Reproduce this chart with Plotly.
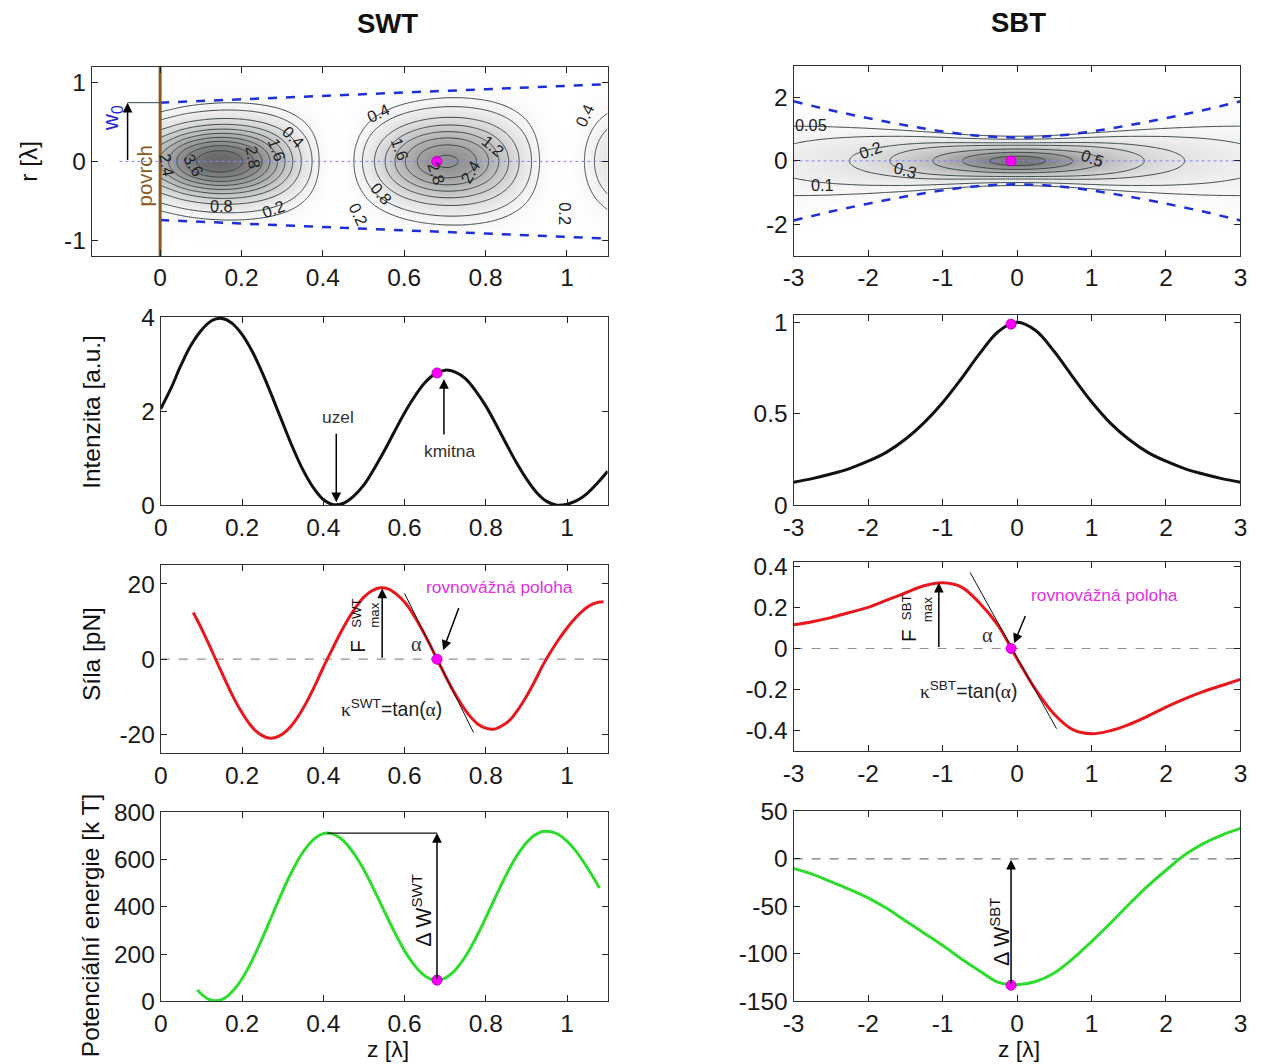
import numpy as np
import plotly.graph_objects as go

W, H = 1261, 1064
SANS = "Liberation Sans, Arial, Helvetica, sans-serif"
SERIF = "Liberation Serif, Times New Roman, serif"

# ---------------- data ----------------
# SWT: on-axis intensity
z_int_swt = [0.0, 0.025, 0.05, 0.075, 0.1, 0.125, 0.15, 0.175, 0.2, 0.225, 0.25, 0.275,
             0.3, 0.325, 0.35, 0.375, 0.4, 0.425, 0.45, 0.475, 0.5, 0.525, 0.55, 0.575,
             0.6, 0.625, 0.65, 0.675, 0.7, 0.725, 0.75, 0.775, 0.8, 0.825, 0.85, 0.875,
             0.9, 0.925, 0.95, 0.975, 1.0, 1.025, 1.05, 1.075, 1.1]
int_swt = [2.05, 2.48, 2.98, 3.41, 3.72, 3.92, 3.97, 3.87, 3.63, 3.27, 2.81, 2.29,
           1.75, 1.22, 0.75, 0.38, 0.12, 0.01, 0.04, 0.19, 0.43, 0.77, 1.15, 1.56,
           1.96, 2.31, 2.60, 2.79, 2.87, 2.83, 2.69, 2.43, 2.11, 1.72, 1.31, 0.91,
           0.56, 0.27, 0.08, 0.00, 0.02, 0.10, 0.25, 0.47, 0.72]
# SWT: force
z_f_swt = [0.08, 0.10, 0.12, 0.14, 0.16, 0.18, 0.20, 0.22, 0.24, 0.26, 0.28, 0.30, 0.32,
           0.34, 0.36, 0.38, 0.40, 0.42, 0.44, 0.46, 0.48, 0.50, 0.52, 0.54, 0.56, 0.58,
           0.60, 0.62, 0.64, 0.66, 0.68, 0.70, 0.72, 0.74, 0.76, 0.78, 0.80, 0.82, 0.84,
           0.86, 0.88, 0.90, 0.92, 0.94, 0.96, 0.98, 1.00, 1.02, 1.04, 1.06, 1.08, 1.09]
f_swt = [12.4, 8.2, 3.6, -1.2, -5.9, -10.4, -14.2, -17.4, -19.6, -20.8, -20.9, -19.9, -17.9,
         -14.9, -11.2, -6.9, -2.2, 2.2, 6.5, 10.4, 13.8, 16.5, 18.2, 19.0, 18.7, 17.3,
         15.2, 12.2, 8.5, 4.4, 0.0, -4.3, -8.4, -12.0, -15.0, -17.2, -18.3, -18.6, -17.7,
         -16.1, -13.3, -9.9, -6.0, -1.7, 2.0, 5.3, 8.3, 10.9, 13.0, 14.5, 15.2, 15.3]
# SWT: potential energy
z_w_swt = [0.09, 0.10, 0.12, 0.14, 0.16, 0.18, 0.20, 0.22, 0.24, 0.26, 0.28, 0.30, 0.32,
           0.34, 0.36, 0.38, 0.40, 0.42, 0.44, 0.46, 0.48, 0.50, 0.52, 0.54, 0.56, 0.58,
           0.60, 0.62, 0.64, 0.66, 0.68, 0.70, 0.72, 0.74, 0.76, 0.78, 0.80, 0.82, 0.84,
           0.86, 0.88, 0.90, 0.92, 0.94, 0.96, 0.98, 1.00, 1.02, 1.04, 1.06, 1.08]
w_swt = [49, 31, 8, 4, 17, 49, 96, 157, 229, 307, 388, 467, 540,
         605, 655, 691, 710, 710, 693, 661, 614, 557, 490, 419, 347, 278,
         215, 163, 123, 98, 90, 99, 124, 165, 219, 283, 354, 427, 500,
         567, 625, 671, 703, 719, 718, 705, 678, 640, 592, 538, 480]
# SWT: beam radius (dashed lines)
z_beam_swt = [0.0, 0.2, 0.4, 0.6, 0.8, 1.0, 1.1]
w_beam_swt = [0.745, 0.79, 0.83, 0.875, 0.915, 0.96, 0.98]
swt_levels_a = (0.4, 3.6, 0.4)   # start, end, step of contour levels
swt_level_b = 0.2

# SBT
z_sbt = [-3.0, -2.75, -2.5, -2.25, -2.0, -1.75, -1.5, -1.25, -1.0, -0.75, -0.5, -0.25, 0.0,
         0.25, 0.5, 0.75, 1.0, 1.25, 1.5, 1.75, 2.0, 2.25, 2.5, 2.75, 3.0]
int_sbt = [0.125, 0.145, 0.17, 0.2, 0.24, 0.29, 0.36, 0.45, 0.56, 0.69, 0.83, 0.95, 1.0,
           0.955, 0.84, 0.70, 0.565, 0.45, 0.36, 0.29, 0.24, 0.2, 0.17, 0.145, 0.125]
f_sbt = [0.115, 0.13, 0.15, 0.175, 0.2, 0.235, 0.27, 0.305, 0.32, 0.30, 0.22, 0.11, -0.05,
         -0.20, -0.32, -0.395, -0.415, -0.40, -0.37, -0.33, -0.285, -0.245, -0.21, -0.18, -0.15]
w_sbt = [-10, -16, -24, -32, -41, -52, -65, -78, -91, -105, -118, -130, -132.5,
         -129, -120, -105, -87, -68, -48, -29, -12, 4, 16, 25, 32]
z_beam_sbt = [-3.0, -2.5, -2.0, -1.5, -1.0, -0.5, 0.0, 0.5, 1.0, 1.5, 2.0, 2.5, 3.0]
w_beam_sbt = [1.88, 1.60, 1.35, 1.125, 0.93, 0.79, 0.74, 0.79, 0.93, 1.125, 1.35, 1.60, 1.88]
sbt_levels = [0.05, 0.1, 0.2, 0.3, 0.5, 0.7, 0.9]

# equilibrium positions and values at them
eq_swt_z, eq_swt_int, eq_swt_w = 0.68, 2.81, 90
eq_sbt_z, eq_sbt_int, eq_sbt_w = -0.08, 0.99, -133
fmax_swt_z, fmax_swt = 0.545, 18.8
fmax_sbt_z, fmax_sbt = -1.05, 0.32
wmax_swt_z, wmax_swt = 0.41, 712
tan_swt_z, tan_swt_f = [0.60, 0.77], [17.5, -19.5]
tan_sbt_z, tan_sbt_f = [-0.63, 0.53], [0.37, -0.39]

# ---------------- helpers ----------------
def cspline(xk, yk, x):
    xk = np.asarray(xk, float); yk = np.asarray(yk, float); x = np.asarray(x, float)
    n = len(xk); h = np.diff(xk)
    A = np.zeros((n, n)); b = np.zeros(n)
    A[0, 0] = 1; A[-1, -1] = 1
    for i in range(1, n - 1):
        A[i, i - 1] = h[i - 1]; A[i, i] = 2 * (h[i - 1] + h[i]); A[i, i + 1] = h[i]
        b[i] = 3 * ((yk[i + 1] - yk[i]) / h[i] - (yk[i] - yk[i - 1]) / h[i - 1])
    c = np.linalg.solve(A, b)
    bc = (yk[1:] - yk[:-1]) / h - h * (2 * c[:-1] + c[1:]) / 3
    d = (c[1:] - c[:-1]) / (3 * h)
    idx = np.clip(np.searchsorted(xk, x) - 1, 0, n - 2)
    dx = x - xk[idx]
    return yk[idx] + bc[idx] * dx + c[idx] * dx ** 2 + d[idx] * dx ** 3

# fields for the contour maps, built from the read profiles
K_SWT, K_SBT = 0.78, 0.86
zg1 = np.linspace(0, 1.1, 221); rg1 = np.linspace(-1.2, 1.2, 241)
I1 = np.clip(cspline(z_int_swt, int_swt, zg1), 0, None)
wz1 = np.interp(zg1, z_beam_swt, w_beam_swt) * K_SWT
F1 = np.round(I1[None, :] * np.exp(-2 * rg1[:, None] ** 2 / wz1[None, :] ** 2), 4)

zg5 = np.linspace(-3, 3, 241); rg5 = np.linspace(-3, 3, 241)
I5 = np.clip(cspline(z_sbt, int_sbt, zg5), 0, None)
wz5 = cspline(z_beam_sbt, w_beam_sbt, zg5) * K_SBT
F5 = np.round(I5[None, :] * np.exp(-2 * rg5[:, None] ** 2 / wz5[None, :] ** 2), 4)

# page-pixel placement (compensates the slight shrink of the captured page)
SX, OX, SY, OY = 0.986, 10.2, 0.974, 14.2
def PX(p): return (p - OX) / SX
def PY(p): return (p - OY) / SY
FS = 1.0 / 0.98

def dx_(a, b): return [PX(a) / W, PX(b) / W]
def dy_(top, bot): return [1 - PY(bot) / H, 1 - PY(top) / H]

def xn(i): return 'x' if i == 1 else f'x{i}'
def yn(i): return 'y' if i == 1 else f'y{i}'

GRAY = [[0, '#ffffff'], [1, '#5a5a5a']]
CL = '#3a4848'
BLUE = '#1e2fd6'
RED = '#e8171d'
GREEN = '#2edc2e'
PINK = '#ff00ff'
BROWN = '#8c5a1e'

fig = go.Figure()

def line(i, x, y, color, width=3, dash=None, shape='spline'):
    fig.add_trace(go.Scatter(x=x, y=y, mode='lines', xaxis=xn(i), yaxis=yn(i),
                             line=dict(color=color, width=width, dash=dash, shape=shape),
                             hoverinfo='skip'))

def dot(i, x, y):
    fig.add_trace(go.Scatter(x=[x], y=[y], mode='markers', xaxis=xn(i), yaxis=yn(i),
                             marker=dict(color=PINK, size=10, line=dict(color='#c000c0', width=1)),
                             hoverinfo='skip'))

def contour(i, xg, yg, f, start, end, step):
    fig.add_trace(go.Contour(x=xg, y=yg, z=f, xaxis=xn(i), yaxis=yn(i), autocontour=False,
                             contours=dict(start=start, end=end, size=step, coloring='none'),
                             line=dict(color=CL, width=1), showscale=False, hoverinfo='skip'))

# ---- panel 1: SWT map ----
fig.add_trace(go.Heatmap(x=zg1, y=rg1, z=F1, colorscale=GRAY, zmin=0, zmax=4.3, zsmooth='best',
                         showscale=False, hoverinfo='skip', xaxis='x', yaxis='y'))
contour(1, zg1, rg1, F1, swt_levels_a[0], swt_levels_a[1] + 0.01, swt_levels_a[2])
contour(1, zg1, rg1, F1, swt_level_b, swt_level_b, 0.1)
line(1, z_beam_swt, w_beam_swt, BLUE, 2.5, 'dash', 'linear')
line(1, z_beam_swt, [-v for v in w_beam_swt], BLUE, 2.5, 'dash', 'linear')
line(1, [-0.1, 1.1], [0, 0], '#8080ff', 1, 'dot', 'linear')
line(1, [0, 0], [-1.2, 1.2], BROWN, 3, None, 'linear')
line(1, [-0.08, 0], [w_beam_swt[0], w_beam_swt[0]], '#2a4a4a', 1, None, 'linear')
dot(1, eq_swt_z, 0)

# ---- panel 2: SWT intensity ----
line(2, z_int_swt, int_swt, '#111111', 3)
dot(2, eq_swt_z, eq_swt_int)

# ---- panel 3: SWT force ----
line(3, [0, 1.1], [0, 0], '#9a8c8c', 1.2, 'dash', 'linear')
line(3, z_f_swt, f_swt, RED, 3)
line(3, tan_swt_z, tan_swt_f, '#111111', 1, None, 'linear')
dot(3, eq_swt_z, 0)

# ---- panel 4: SWT energy ----
line(4, z_w_swt, w_swt, GREEN, 3)
line(4, [wmax_swt_z, eq_swt_z], [wmax_swt, wmax_swt], '#111111', 1.2, None, 'linear')
dot(4, eq_swt_z, eq_swt_w)

# ---- panel 5: SBT map ----
fig.add_trace(go.Heatmap(x=zg5, y=rg5, z=F5, colorscale=GRAY, zmin=0, zmax=1.2, zsmooth='best',
                         showscale=False, hoverinfo='skip', xaxis='x5', yaxis='y5'))
contour(5, zg5, rg5, F5, sbt_levels[0], sbt_levels[0], 0.05)
contour(5, zg5, rg5, F5, sbt_levels[1], sbt_levels[3] + 0.001, 0.1)
contour(5, zg5, rg5, F5, sbt_levels[4], sbt_levels[6] + 0.001, 0.2)
line(5, z_beam_sbt, w_beam_sbt, BLUE, 2.5, 'dash')
line(5, z_beam_sbt, [-v for v in w_beam_sbt], BLUE, 2.5, 'dash')
line(5, [-3, 3], [0, 0], '#8080ff', 1, 'dot', 'linear')
dot(5, eq_sbt_z, 0)

# ---- panel 6: SBT intensity ----
line(6, z_sbt, int_sbt, '#111111', 3)
dot(6, eq_sbt_z, eq_sbt_int)

# ---- panel 7: SBT force ----
line(7, [-3, 3], [0, 0], '#9a8c8c', 1.2, 'dash', 'linear')
line(7, z_sbt, f_sbt, RED, 3)
line(7, tan_sbt_z, tan_sbt_f, '#111111', 1, None, 'linear')
dot(7, eq_sbt_z, 0)

# ---- panel 8: SBT energy ----
line(8, [-3, 3], [0, 0], '#6f7a7a', 1.2, 'dash', 'linear')
line(8, z_sbt, w_sbt, GREEN, 3)
dot(8, eq_sbt_z, eq_sbt_w)

# ---------------- axes ----------------
TF = dict(family=SANS, size=24.5, color='#1a1a1a')
X1 = ([0, 0.2, 0.4, 0.6, 0.8, 1], ['0', '0.2', '0.4', '0.6', '0.8', '1'])
X2 = ([-3, -2, -1, 0, 1, 2, 3], ['-3', '-2', '-1', '0', '1', '2', '3'])
panels = [
    ([91, 607], [68, 257], [-0.168, 1.1], [-1.2, 1.2], X1, ([-1, 0, 1], ['-1', '0', '1'])),
    ([160, 607], [318, 506], [0, 1.1], [0, 4], X1, ([0, 2, 4], ['0', '2', '4'])),
    ([160, 607], [566, 754], [0, 1.1], [-25, 25], X1, ([-20, 0, 20], ['-20', '0', '20'])),
    ([160, 607], [813, 1002], [0, 1.1], [0, 800], X1, ([0, 200, 400, 600, 800], ['0', '200', '400', '600', '800'])),
    ([793, 1240], [67, 257], [-3, 3], [-3, 3], X2, ([-2, 0, 2], ['-2', '0', '2'])),
    ([793, 1240], [316, 506], [-3, 3], [0, 1.04], X2, ([0, 0.5, 1], ['0', '0.5', '1'])),
    ([793, 1240], [563, 752], [-3, 3], [-0.5, 0.42], X2, ([-0.4, -0.2, 0, 0.2, 0.4], ['-0.4', '-0.2', '0', '0.2', '0.4'])),
    ([793, 1240], [812, 1002], [-3, 3], [-150, 50], X2, ([-150, -100, -50, 0, 50], ['-150', '-100', '-50', '0', '50'])),
]
layout = dict(width=W, height=H, margin=dict(l=0, r=0, t=0, b=0), paper_bgcolor='white',
              plot_bgcolor='white', showlegend=False, font=dict(family=SANS, color='#1a1a1a'))
for i, (xp, yp, xr, yr, xt, yt) in enumerate(panels, 1):
    sfx = '' if i == 1 else str(i)
    common = dict(ticks='inside', ticklen=6, tickwidth=1, tickcolor='#222', showline=True,
                  linecolor='#2a3333', linewidth=1, mirror='ticks', showgrid=False,
                  zeroline=False, tickfont=TF, fixedrange=True)
    layout['xaxis' + sfx] = dict(domain=dx_(*xp), range=xr, anchor=yn(i),
                                 tickvals=xt[0], ticktext=xt[1], **common)
    layout['yaxis' + sfx] = dict(domain=dy_(*yp), range=yr, anchor=xn(i),
                                 tickvals=yt[0], ticktext=yt[1], **common)

ann = []

def txt(i, x, y, s, size=18, color='#222222', angle=0, family=SANS):
    ann.append(dict(xref=xn(i), yref=yn(i), x=x, y=y, text=s, showarrow=False,
                    font=dict(size=size * FS, color=color, family=family), textangle=angle))

def ptxt(px, py, s, size=24, angle=0, bold=False, raw_y=None):
    yy = (1 - PY(py) / H) if raw_y is None else raw_y
    ann.append(dict(xref='paper', yref='paper', x=PX(px) / W, y=yy, text=('<b>%s</b>' % s) if bold else s,
                    showarrow=False, font=dict(size=size * FS, color='#111111', family=SANS),
                    textangle=angle, xanchor='center', yanchor='middle'))

def arrow(i, x0, y0, x1, y1, width=1.5):
    ann.append(dict(xref=xn(i), yref=yn(i), axref=xn(i), ayref=yn(i), x=x1, y=y1, ax=x0, ay=y0,
                    text='', showarrow=True, arrowhead=2, arrowsize=1.3, arrowwidth=width,
                    arrowcolor='#000000', standoff=0, startstandoff=0))

# column titles, axis titles
ptxt(387, 0, 'SWT', 27, bold=True, raw_y=1 - 11 / H)
ptxt(1018, 0, 'SBT', 27, bold=True, raw_y=1 - 10 / H)
ptxt(28, 162, 'r [λ]', 24, -90)
ptxt(90, 413, 'Intenzita [a.u.]', 24, -90)
ptxt(90, 655, 'Síla [pN]', 24, -90)
ptxt(90, 926, 'Potenciální energie [k T]', 24, -90)
ptxt(387, 1050, 'z [λ]', 22.5)
ptxt(1018, 1050, 'z [λ]', 22.5)

# contour labels (SWT)
CLF = 16
for (x, y, s, a) in [(0.328, 0.31, '0.4', 45), (0.287, 0.14, '1.6', 70), (0.229, 0.055, '2.8', 80),
                     (0.082, -0.05, '3.6', 60), (0.016, -0.05, '2.4', 80), (0.152, -0.56, '0.8', 0),
                     (0.278, -0.60, '0.2', -20), (0.536, 0.61, '0.4', -25), (0.59, 0.16, '1.6', 70),
                     (0.819, 0.2, '1.2', 40), (0.762, -0.136, '2.4', -60), (0.68, -0.157, '2.8', 70),
                     (0.545, -0.41, '0.8', 50), (0.487, -0.67, '0.2', 65), (1.044, 0.59, '0.4', -65),
                     (0.995, -0.67, '0.2', 90)]:
    txt(1, x, y, s, CLF, '#222222', a)
# contour labels (SBT)
for (x, y, s, a) in [(-2.77, 1.13, '0.05', 0), (-1.97, 0.35, '0.2', -20), (-1.5, -0.28, '0.3', 15),
                     (1.01, 0.09, '0.5', 20), (-2.61, -0.76, '0.1', 0)]:
    txt(5, x, y, s, CLF, '#222222', a)

# SWT map extras
txt(1, -0.118, 0.55, 'w<sub>0</sub>', 22, '#2828d0', -90)
txt(1, -0.037, -0.19, 'povrch', 20, BROWN, -90)
arrow(1, -0.08, 0.0, -0.08, w_beam_swt[0])

# SWT intensity
txt(2, 0.437, 1.87, 'uzel', 17, '#333333')
arrow(2, 0.432, 1.55, 0.432, 0.06)
txt(2, 0.71, 1.15, 'kmitna', 17, '#333333')
arrow(2, 0.697, 1.47, 0.697, 2.68)

# SWT force
txt(3, 0.835, 19.3, 'rovnovážná poloha', 17, '#e030e0')
arrow(3, 0.735, 14.0, 0.695, 2.4)
txt(3, 0.629, 4.0, 'α', 20, '#333333', 0, SERIF)
txt(3, 0.568, -13.0, "<span style='font-family:Liberation Serif'>κ</span><sup>SWT</sup>=tan(<span style='font-family:Liberation Serif'>α</span>)", 19, '#222222')
arrow(3, fmax_swt_z, 0, fmax_swt_z, fmax_swt)
txt(3, (358 - 160) / 407, (661 - 648) / 3.775, 'F', 20, '#111111', -90)
txt(3, (356 - 160) / 407, (661 - 615) / 3.775, 'SWT', 13, '#111111', -90)
txt(3, (374 - 160) / 407, (661 - 617) / 3.775, 'max', 13, '#111111', -90)

# SWT energy
arrow(4, eq_swt_z, eq_swt_w, eq_swt_z, wmax_swt)
txt(4, 0.644, 385, 'Δ W<sup>SWT</sup>', 21, '#111111', -90)

# SBT force
txt(7, 1.18, 0.26, 'rovnovážná poloha', 17, '#e030e0')
arrow(7, 0.12, 0.165, -0.04, 0.025)
txt(7, -0.40, 0.065, 'α', 20, '#333333', 0, SERIF)
txt(7, -0.65, -0.2, "<span style='font-family:Liberation Serif'>κ</span><sup>SBT</sup>=tan(<span style='font-family:Liberation Serif'>α</span>)", 19, '#222222')
arrow(7, fmax_sbt_z, 0, fmax_sbt_z, fmax_sbt)
txt(7, (908 - 1016.5) / 74.5, (649 - 637) / 206.25, 'F', 20, '#111111', -90)
txt(7, (906 - 1016.5) / 74.5, (649 - 608) / 206.25, 'SBT', 13, '#111111', -90)
txt(7, (927 - 1016.5) / 74.5, (649 - 610) / 206.25, 'max', 13, '#111111', -90)

# SBT energy
arrow(8, eq_sbt_z, eq_sbt_w, eq_sbt_z, -1)
txt(8, -0.23, -77, 'Δ W<sup>SBT</sup>', 21, '#111111', -90)

layout['annotations'] = ann
fig.update_layout(**layout)
fig.write_html("out.html")
